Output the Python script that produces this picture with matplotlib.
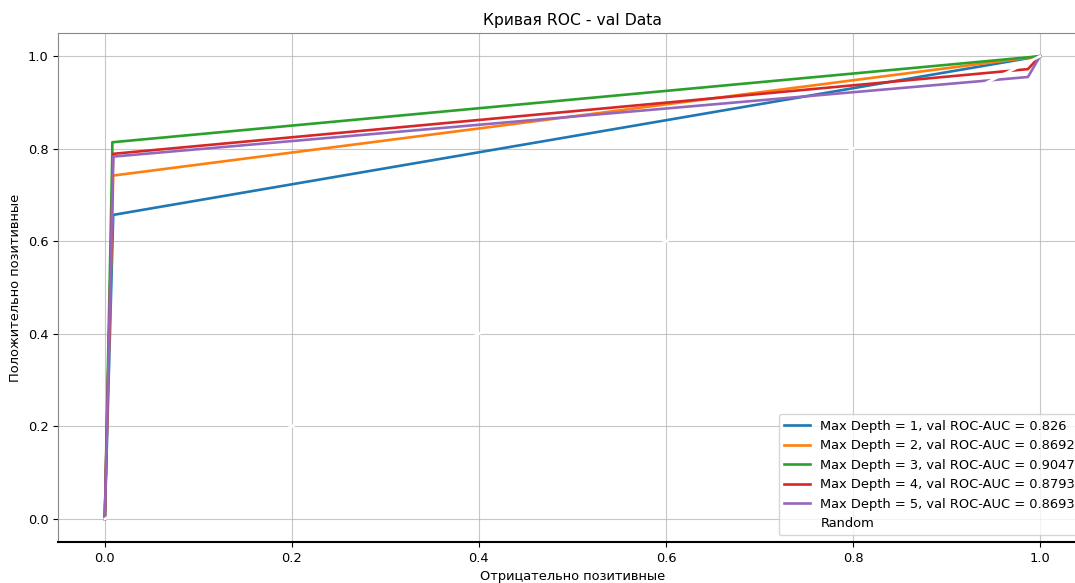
import numpy as np
import matplotlib
matplotlib.use("Agg")
import matplotlib.pyplot as plt

plt.rcParams["font.size"] = 9.4

# ROC points (fpr, tpr) per max depth
depths = [1, 2, 3, 4, 5]
aucs = ["0.826", "0.8692", "0.9047", "0.8793", "0.8693"]
fpr_1 = [0.0, 0.009, 1.0]
tpr_1 = [0.0, 0.657, 1.0]
fpr_2 = [0.0, 0.009, 1.0]
tpr_2 = [0.0, 0.742, 1.0]
fpr_3 = [0.0, 0.008, 0.008, 1.0]
tpr_3 = [0.0, 0.79, 0.814, 1.0]
fpr_4 = [0.0, 0.009, 0.987, 1.0]
tpr_4 = [0.0, 0.789, 0.972, 1.0]
fpr_5 = [0.0, 0.009, 0.987, 1.0]
tpr_5 = [0.0, 0.783, 0.955, 1.0]
fprs = [fpr_1, fpr_2, fpr_3, fpr_4, fpr_5]
tprs = [tpr_1, tpr_2, tpr_3, tpr_4, tpr_5]

fig = plt.figure(figsize=(10.75, 5.83), dpi=100)
ax = fig.add_axes([0.054, 0.0703, 0.957, 0.873])

for d, auc, x, y in zip(depths, aucs, fprs, tprs):
    ax.plot(x, y, lw=1.9, label="Max Depth = %d, val ROC-AUC = %s" % (d, auc))
ax.plot([0, 1], [0, 1], color="white", lw=1.9, label="Random")

ax.set_xlim(-0.05, 1.05)
ax.set_ylim(-0.05, 1.05)
ax.grid(True, color="#b0b0b0", alpha=0.7)
for s in ["top", "left", "right"]:
    ax.spines[s].set_color("#888888")
ax.spines["bottom"].set_color("black")
ax.spines["bottom"].set_linewidth(1.5)

ax.set_title("Кривая ROC - val Data")
ax.set_xlabel("Отрицательно позитивные")
ax.set_ylabel("Положительно позитивные")
ax.legend(loc="lower right")

fig.savefig("out.png", dpi=100)
